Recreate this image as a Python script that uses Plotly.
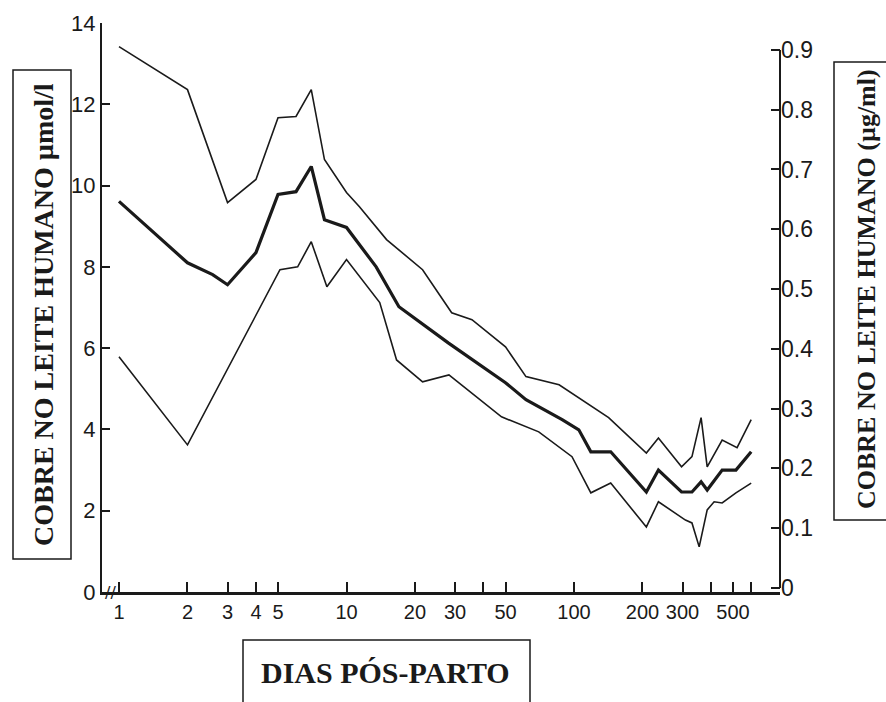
import plotly.graph_objects as go

# Upper band
days_upper = [1, 2, 3, 4, 5, 6, 7, 8, 10, 11.4, 15, 21.6, 29, 35.6, 50, 61.5, 86, 105, 142, 208, 235, 297, 330, 362, 385, 448, 521, 601]
cu_upper = [13.42, 12.36, 9.58, 10.15, 11.67, 11.70, 12.36, 10.64, 9.83, 9.48, 8.67, 7.93, 6.87, 6.70, 6.03, 5.30, 5.10, 4.78, 4.29, 3.42, 3.79, 3.08, 3.33, 4.29, 3.08, 3.74, 3.55, 4.24]

# Mean
days_mean = [1, 2, 2.58, 3, 4, 5, 6, 7, 8, 10, 13.5, 17, 28, 50, 61.5, 88.7, 105, 118.6, 145, 208, 235, 297, 330, 362, 385, 448, 515, 601]
cu_mean = [9.61, 8.10, 7.81, 7.56, 8.35, 9.78, 9.85, 10.47, 9.16, 8.97, 8.00, 7.02, 6.13, 5.15, 4.73, 4.24, 3.99, 3.45, 3.45, 2.46, 3.00, 2.46, 2.46, 2.71, 2.51, 3.00, 3.00, 3.45]

# Lower band
days_lower = [1, 2, 5.1, 6.1, 7, 8.2, 10, 14, 16.6, 21.6, 28.2, 48, 70, 98, 118.6, 145, 208, 235, 309, 330, 355, 385, 413, 448, 515, 601]
cu_lower = [5.79, 3.62, 7.93, 8.00, 8.62, 7.51, 8.18, 7.12, 5.71, 5.17, 5.34, 4.31, 3.94, 3.33, 2.44, 2.68, 1.60, 2.22, 1.77, 1.70, 1.11, 2.02, 2.22, 2.19, 2.44, 2.68]

x_tickvals = [1, 2, 3, 4, 5, 10, 20, 30, 40, 50, 100, 200, 300, 400, 500, 600]
x_ticktext = ["1", "2", "3", "4", "5", "10", "20", "30", "", "50", "100", "200", "300", "", "500", ""]
y_tickvals = [0, 2, 4, 6, 8, 10, 12, 14]
y2_tickvals = [0, 0.1, 0.2, 0.3, 0.4, 0.5, 0.6, 0.7, 0.8, 0.9]
y2_ticktext = ["0", "0.1", "0.2", "0.3", "0.4", "0.5", "0.6", "0.7", "0.8", "0.9"]

W, H = 886, 702
L, R, T, B = 102, 780, 23, 592


def px(x):
    return (x - L) / (R - L)


def py(y):
    return (B - y) / (B - T)


ink = "#1a1a1a"
fig = go.Figure()
fig.add_trace(go.Scatter(x=days_upper, y=cu_upper, mode="lines",
                         line=dict(color=ink, width=1.6), showlegend=False))
fig.add_trace(go.Scatter(x=days_mean, y=cu_mean, mode="lines",
                         line=dict(color=ink, width=3.2), showlegend=False))
fig.add_trace(go.Scatter(x=days_lower, y=cu_lower, mode="lines",
                         line=dict(color=ink, width=1.6), showlegend=False))
# invisible trace to activate the right axis
fig.add_trace(go.Scatter(x=[1], y=[0], yaxis="y2", mode="lines",
                         line=dict(width=0), showlegend=False, hoverinfo="skip"))

tickfont = dict(family="Liberation Sans, Arial, sans-serif", size=22, color=ink)

fig.update_layout(
    width=W, height=H,
    margin=dict(l=L, r=W - R, t=T, b=H - B),
    paper_bgcolor="white", plot_bgcolor="white",
    xaxis=dict(type="log", range=[-0.0747, 2.9055],
               tickvals=x_tickvals, ticktext=x_ticktext,
               ticks="inside", ticklen=10, tickwidth=1.5, tickcolor=ink,
               showline=True, linecolor=ink, linewidth=2.5,
               showgrid=False, zeroline=False, tickfont=dict(tickfont, size=20)),
    yaxis=dict(range=[0, 14], tickvals=y_tickvals,
               ticks="inside", ticklen=8, tickwidth=1.5, tickcolor=ink,
               showline=True, linecolor=ink, linewidth=2,
               showgrid=False, zeroline=False, tickfont=tickfont),
    yaxis2=dict(overlaying="y", side="right", range=[-0.0067, 0.945],
                tickvals=y2_tickvals, ticktext=y2_ticktext,
                ticks="inside", ticklen=9, tickwidth=1.5, tickcolor=ink,
                showline=False, showgrid=False, zeroline=False,
                tickfont=dict(tickfont, size=23)),
)

# right axis line (from 0 to 0.9)
fig.add_shape(type="line", xref="paper", yref="y2", x0=1, x1=1, y0=0, y1=0.9,
              line=dict(color=ink, width=2))

serif = "Liberation Serif, Times New Roman, serif"

# title boxes
fig.add_shape(type="rect", xref="paper", yref="paper",
              x0=px(13), x1=px(71), y0=py(559), y1=py(70),
              line=dict(color=ink, width=1.5))
fig.add_shape(type="rect", xref="paper", yref="paper",
              x0=px(834), x1=px(892), y0=py(520), y1=py(62),
              line=dict(color=ink, width=1.5))
fig.add_shape(type="rect", xref="paper", yref="paper",
              x0=px(243), x1=px(530), y0=py(712), y1=py(640),
              line=dict(color=ink, width=1.5))

fig.add_annotation(xref="paper", yref="paper", x=px(43), y=py(315),
                   xanchor="center", yanchor="middle",
                   text="<b>COBRE NO LEITE HUMANO µmol/l</b>", textangle=-90,
                   showarrow=False, font=dict(family=serif, size=28, color=ink))
fig.add_annotation(xref="paper", yref="paper", x=px(866), y=py(289),
                   xanchor="center", yanchor="middle",
                   text="<b>COBRE NO LEITE HUMANO (µg/ml)</b>", textangle=-90,
                   showarrow=False, font=dict(family=serif, size=26, color=ink))
fig.add_annotation(xref="paper", yref="paper", x=px(385), y=py(672),
                   xanchor="center", yanchor="middle",
                   text="<b>DIAS PÓS-PARTO</b>",
                   showarrow=False, font=dict(family=serif, size=30, color=ink))
# axis break mark
fig.add_annotation(xref="paper", yref="paper", x=px(110), y=py(592),
                   xanchor="center", yanchor="middle",
                   text="//", showarrow=False,
                   font=dict(family="DejaVu Sans", size=16, color=ink))

fig.write_html("out.html")
